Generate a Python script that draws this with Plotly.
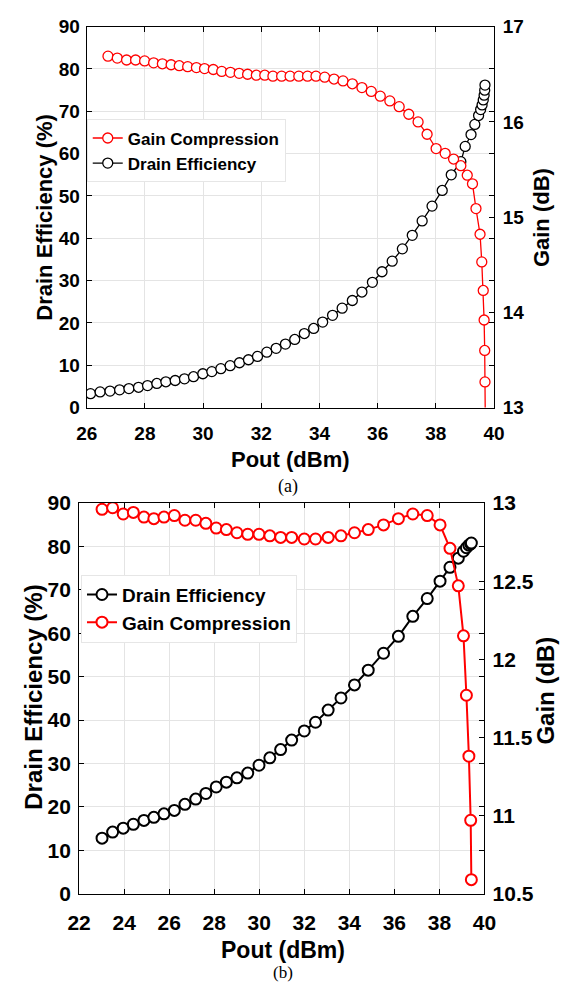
import plotly.graph_objects as go

# ---------------- Data: panel (a) ----------------
a_de_pout = [26.13, 26.46, 26.80, 27.13, 27.45, 27.78, 28.09, 28.41, 28.72, 29.04,
             29.36, 29.67, 29.99, 30.30, 30.61, 30.93, 31.25, 31.56, 31.87, 32.19,
             32.51, 32.83, 33.15, 33.48, 33.80, 34.11, 34.45, 34.78, 35.13, 35.46,
             35.82, 36.15, 36.50, 36.85, 37.19, 37.53, 37.87, 38.22, 38.53, 38.86,
             39.01, 39.21, 39.34, 39.47, 39.54, 39.59, 39.63, 39.66, 39.68, 39.69]
a_de = [3.3, 3.7, 3.9, 4.2, 4.5, 4.8, 5.2, 5.7, 6.1, 6.4,
        6.8, 7.3, 8.0, 8.5, 9.2, 9.9, 10.6, 11.3, 12.1, 13.1,
        14.0, 15.0, 16.1, 17.5, 18.7, 20.2, 21.8, 23.5, 25.3, 27.3,
        29.6, 32.1, 34.6, 37.5, 40.7, 44.1, 47.6, 51.3, 55.0, 58.1,
        61.7, 64.5, 66.9, 69.0, 70.4, 71.5, 72.7, 73.8, 75.0, 76.2]

a_gain_pout = [26.73, 27.05, 27.37, 27.68, 27.99, 28.30, 28.60, 28.90, 29.18, 29.47,
               29.77, 30.05, 30.35, 30.64, 30.94, 31.24, 31.53, 31.83, 32.12, 32.40,
               32.70, 32.99, 33.29, 33.59, 33.88, 34.18, 34.50, 34.81, 35.13, 35.46,
               35.78, 36.09, 36.42, 36.74, 37.07, 37.39, 37.70, 38.01, 38.32, 38.61,
               38.86, 39.08, 39.26, 39.38, 39.52, 39.58, 39.63, 39.66, 39.68, 39.69, 39.70]
a_gain = [16.69, 16.67, 16.65, 16.65, 16.64, 16.62, 16.61, 16.60, 16.59, 16.58,
          16.57, 16.56, 16.55, 16.53, 16.52, 16.51, 16.50, 16.49, 16.49, 16.48,
          16.48, 16.48, 16.48, 16.48, 16.48, 16.47, 16.45, 16.43, 16.40, 16.36,
          16.32, 16.27, 16.22, 16.16, 16.08, 16.00, 15.87, 15.72, 15.67, 15.61,
          15.54, 15.44, 15.35, 15.09, 14.82, 14.53, 14.23, 13.92, 13.60, 13.27, 12.90]

# ---------------- Data: panel (b) ----------------
b_pout = [23.02, 23.49, 23.96, 24.41, 24.88, 25.32, 25.77, 26.23, 26.70, 27.18,
          27.63, 28.09, 28.54, 29.01, 29.49, 29.99, 30.47, 30.95, 31.44, 32.00,
          32.50, 33.06, 33.63, 34.23, 34.84, 35.52, 36.18, 36.82, 37.46, 38.03,
          38.47, 38.84, 39.07, 39.20, 39.31, 39.39, 39.42]
b_de = [12.8, 14.2, 15.1, 16.0, 16.9, 17.6, 18.4, 19.2, 20.6, 21.8,
        23.1, 24.6, 25.7, 26.7, 27.8, 29.6, 31.3, 33.2, 35.4, 37.5,
        39.5, 42.3, 45.1, 48.1, 51.5, 55.4, 59.3, 63.9, 68.0, 72.0,
        75.2, 77.3, 78.9, 79.7, 80.3, 80.6, 80.8]
b_gain = [12.96, 12.97, 12.93, 12.94, 12.91, 12.90, 12.91, 12.92, 12.89, 12.89,
          12.87, 12.84, 12.83, 12.81, 12.80, 12.80, 12.79, 12.78, 12.78, 12.77,
          12.77, 12.78, 12.79, 12.81, 12.83, 12.86, 12.90, 12.93, 12.92, 12.86,
          12.71, 12.47, 12.15, 11.77, 11.38, 10.97, 10.59]

W, H = 575, 991
FONT = "Liberation Sans, Arial, Helvetica, sans-serif"
GRID = "#e4e4e4"

def px(x):
    return x / W

def py(y):
    return 1 - y / H

fig = go.Figure()

# panel (a)
fig.add_trace(go.Scatter(
    x=a_gain_pout, y=a_gain, name="Gain Compression", mode="lines+markers",
    xaxis="x", yaxis="y2", legend="legend",
    line=dict(color="#ff0000", width=1.3),
    marker=dict(symbol="circle", size=10, color="white", line=dict(color="#ff0000", width=1.3)),
))
fig.add_trace(go.Scatter(
    x=a_de_pout, y=a_de, name="Drain Efficiency", mode="lines+markers",
    xaxis="x", yaxis="y", legend="legend",
    line=dict(color="black", width=1.3),
    marker=dict(symbol="circle", size=10, color="white", line=dict(color="black", width=1.3)),
))

# panel (b)
fig.add_trace(go.Scatter(
    x=b_pout, y=b_de, name="Drain Efficiency", mode="lines+markers",
    xaxis="x2", yaxis="y3", legend="legend2",
    line=dict(color="black", width=2),
    marker=dict(symbol="circle", size=11, color="white", line=dict(color="black", width=2)),
))
fig.add_trace(go.Scatter(
    x=b_pout, y=b_gain, name="Gain Compression", mode="lines+markers",
    xaxis="x2", yaxis="y4", legend="legend2",
    line=dict(color="#ff0000", width=2),
    marker=dict(symbol="circle", size=11, color="white", line=dict(color="#ff0000", width=2)),
))

def axis_common(size, standoff=0):
    return dict(
        showline=True, linecolor="black", linewidth=1,
        ticks="inside", ticklen=5, tickwidth=1, tickcolor="black",
        tickfont=dict(family=FONT, size=size, color="black", weight="bold"),
        ticklabelstandoff=standoff,
        zeroline=False,
    )

fig.update_layout(
    width=W, height=H,
    margin=dict(l=0, r=0, t=0, b=0),
    paper_bgcolor="white", plot_bgcolor="white",
    showlegend=True,
    xaxis=dict(domain=[px(78), px(503)], anchor="y", range=[26, 40], dtick=2,
               showgrid=True, gridcolor=GRID, mirror="ticks", **axis_common(19, 9)),
    yaxis=dict(domain=[py(405), py(15)], anchor="x", range=[0, 90], dtick=10,
               showgrid=True, gridcolor=GRID, mirror="ticks", **axis_common(19, 2)),
    yaxis2=dict(overlaying="y", side="right", anchor="x", range=[13, 17], dtick=1,
                showgrid=False, **axis_common(19, 4)),
    xaxis2=dict(domain=[px(70), px(493)], anchor="y3", range=[22, 40], dtick=2,
                showgrid=True, gridcolor=GRID, mirror="ticks", **axis_common(21, 10)),
    yaxis3=dict(domain=[py(902.7), py(502.7)], anchor="x2", range=[0, 90], dtick=10,
                showgrid=True, gridcolor=GRID, mirror="ticks", **axis_common(21, 3)),
    yaxis4=dict(overlaying="y3", side="right", anchor="x2", range=[10.5, 13], dtick=0.5,
                showgrid=False, **axis_common(21, 3)),
    legend=dict(x=px(78), y=py(110), xanchor="left", yanchor="top",
                bgcolor="white", bordercolor="#e6e6e6", borderwidth=1,
                itemwidth=30,
                font=dict(family=FONT, size=17, color="black", weight="bold"),
                tracegroupgap=0),
    legend2=dict(x=px(72), y=py(576), xanchor="left", yanchor="top",
                 bgcolor="white", bordercolor="#e6e6e6", borderwidth=1,
                 itemwidth=30,
                 font=dict(family=FONT, size=19, color="black", weight="bold"),
                 tracegroupgap=0),
)

def label(text, x, y, size, angle=0, bold=True, family=FONT):
    fig.add_annotation(
        text=text, x=px(x), y=py(y), xref="paper", yref="paper",
        xanchor="center", yanchor="middle", showarrow=False, textangle=angle,
        font=dict(family=family, size=size, color="black", weight="bold" if bold else "normal"),
    )

# panel (a) titles
label("Drain Efficiency (%)", 34, 210, 22, angle=-90)
label("Gain (dB)", 552, 210, 22, angle=-90)
label("Pout (dBm)", 291, 458, 22)
label("(a)", 288, 486, 18, bold=False, family="Liberation Serif, Times New Roman, serif")

# panel (b) titles
label("Drain Efficiency (%)", 23, 702, 24, angle=-90)
label("Gain (dB)", 557, 695, 24, angle=-90)
label("Pout (dBm)", 283, 960, 23)
label("(b)", 283, 983, 17, bold=False, family="Liberation Serif, Times New Roman, serif")

fig.write_html("out.html")
